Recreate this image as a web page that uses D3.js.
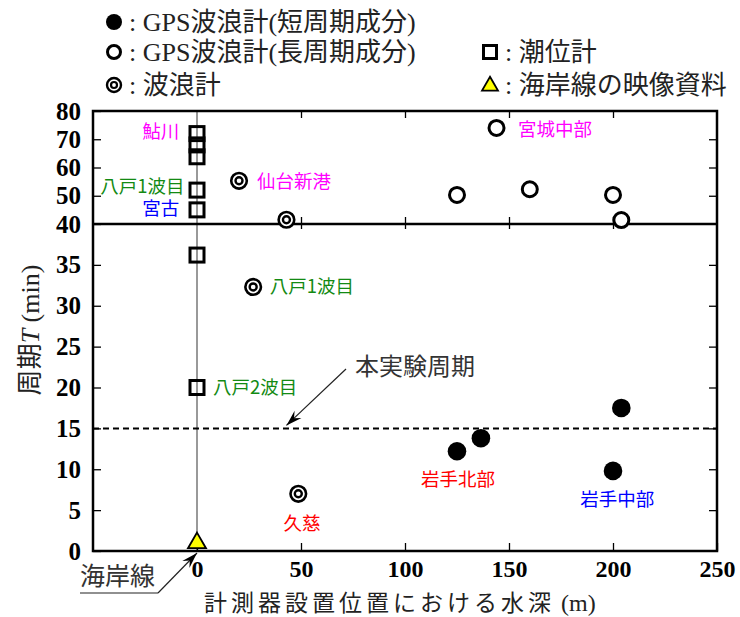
<!DOCTYPE html>
<html>
<head>
<meta charset="utf-8">
<script src="https://cdn.jsdelivr.net/npm/d3@7"></script>
<style>
  body { margin: 0; background: #fff; }
  svg text { font-family: "Liberation Serif", "Noto Sans CJK JP", serif; }
</style>
</head>
<body>
<div id="chart"></div>
<script>
// values: water depth (m) and period T (min)
const tideDepth = [0, 0, 0, 0, 0, 0, 0];
const tideT = [72, 68, 63.8, 52, 45, 36.2, 20];

const waveDepth = [20.2, 43, 27, 48.7];
const waveT = [55.3, 41.5, 32.3, 7.0];

const gpsLongDepth = [144, 125, 160, 200, 204];
const gpsLongT = [74, 50.3, 52.3, 50.3, 41.4];

const gpsShortDepth = [125, 136.5, 200, 204];
const gpsShortT = [12.2, 13.8, 9.8, 17.5];

const shoreDepth = [0];
const shoreT = [1.1];

const xTicks = [0, 50, 100, 150, 200, 250];
const yTicksLow = [0, 5, 10, 15, 20, 25, 30, 35, 40];
const yTicksHigh = [50, 60, 70, 80];
const experimentT = 15;

// station names (depth, T where the name sits)
const siteNames = ["鮎川", "八戸1波目", "宮古", "仙台新港", "宮城中部", "八戸1波目", "八戸2波目", "岩手北部", "岩手中部", "久慈"];
const siteDepth = [-8.5, -6, -8.5, 28.8, 154.3, 35, 7.7, 125.5, 202, 50.5];
const siteT = [72.6, 53.4, 45.6, 55.2, 73.6, 32.4, 20, 8.8, 6.3, 3.4];
const siteColor = ["#ff00ff", "#138a13", "#0000ff", "#ff00ff", "#ff00ff", "#138a13", "#138a13", "#ff0000", "#0000ff", "#ff0000"];
const siteAnchor = ["end", "end", "end", "start", "start", "start", "start", "middle", "middle", "middle"];

const width = 740, height = 617;
const plot = { left: 93, right: 717, top: 111, mid: 224, bottom: 551 };

const svg = d3.select("#chart").append("svg")
  .attr("width", width)
  .attr("height", height);

const x = d3.scaleLinear().domain([-50, 250]).range([plot.left, plot.right]);
const yLow = d3.scaleLinear().domain([0, 40]).range([plot.bottom, plot.mid]);
const yHigh = d3.scaleLinear().domain([40, 80]).range([plot.mid, plot.top]);
function y(t) { return t <= 40 ? yLow(t) : yHigh(t); }

// zero-depth (shoreline) line
svg.append("line")
  .attr("x1", x(0)).attr("x2", x(0))
  .attr("y1", plot.top).attr("y2", plot.bottom)
  .attr("stroke", "#555").attr("stroke-width", 1.2);

// dashed line for experiment period
svg.append("line")
  .attr("x1", plot.left).attr("x2", plot.right)
  .attr("y1", yLow(experimentT)).attr("y2", yLow(experimentT))
  .attr("stroke", "#000").attr("stroke-width", 2)
  .attr("stroke-dasharray", "6,4");

// axes
function styleAxis(g, labels, size) {
  g.select(".domain").remove();
  g.selectAll(".tick line").attr("stroke", "#000").attr("stroke-width", 1.3);
  g.selectAll(".tick text")
    .style("font-family", "'Liberation Serif', serif")
    .style("font-weight", "bold")
    .style("font-size", (size || 25) + "px")
    .attr("fill", "#000");
  if (!labels) g.selectAll(".tick text").remove();
}

svg.append("g")
  .attr("transform", `translate(0,${plot.bottom})`)
  .call(d3.axisBottom(x).tickValues(xTicks).tickSize(-8).tickPadding(9).tickFormat(d3.format("d")))
  .call(g => styleAxis(g, true, 24));

svg.append("g")
  .attr("transform", `translate(0,${plot.top})`)
  .call(d3.axisTop(x).tickValues(xTicks.slice(1, 5)).tickSize(-7))
  .call(g => styleAxis(g, false));

svg.append("g")
  .attr("transform", `translate(0,${plot.mid})`)
  .call(d3.axisBottom(x).tickValues(xTicks.slice(1, 5)).tickSize(-7))
  .call(g => styleAxis(g, false));
svg.append("g")
  .attr("transform", `translate(0,${plot.mid})`)
  .call(d3.axisTop(x).tickValues(xTicks.slice(1, 5)).tickSize(-5))
  .call(g => styleAxis(g, false));

svg.append("g")
  .attr("transform", `translate(${plot.left},0)`)
  .call(d3.axisLeft(yLow).tickValues(yTicksLow).tickSize(-8).tickPadding(12))
  .call(g => styleAxis(g, true));
svg.append("g")
  .attr("transform", `translate(${plot.left},0)`)
  .call(d3.axisLeft(yHigh).tickValues(yTicksHigh).tickSize(-8).tickPadding(12))
  .call(g => styleAxis(g, true));
svg.append("g")
  .attr("transform", `translate(${plot.right},0)`)
  .call(d3.axisRight(yLow).tickValues(yTicksLow.slice(1, 8)).tickSize(-8))
  .call(g => styleAxis(g, false));
svg.append("g")
  .attr("transform", `translate(${plot.right},0)`)
  .call(d3.axisRight(yHigh).tickValues(yTicksHigh.slice(0, 3)).tickSize(-8))
  .call(g => styleAxis(g, false));

// frame + break line at 40
svg.append("rect")
  .attr("x", plot.left).attr("y", plot.top)
  .attr("width", plot.right - plot.left).attr("height", plot.bottom - plot.top)
  .attr("fill", "none").attr("stroke", "#000").attr("stroke-width", 2.5);
svg.append("line")
  .attr("x1", plot.left).attr("x2", plot.right)
  .attr("y1", plot.mid).attr("y2", plot.mid)
  .attr("stroke", "#000").attr("stroke-width", 2.5);

// markers
function zip(a, b) { return a.map((d, i) => ({ depth: d, T: b[i] })); }

svg.selectAll(".tide").data(zip(tideDepth, tideT)).enter()
  .append("rect")
  .attr("x", d => x(d.depth) - 7).attr("y", d => y(d.T) - 7)
  .attr("width", 14).attr("height", 14)
  .attr("fill", "none").attr("stroke", "#000").attr("stroke-width", 3);

svg.selectAll(".gpsLong").data(zip(gpsLongDepth, gpsLongT)).enter()
  .append("circle")
  .attr("cx", d => x(d.depth)).attr("cy", d => y(d.T)).attr("r", 7.5)
  .attr("fill", "#fff").attr("stroke", "#000").attr("stroke-width", 3);

svg.selectAll(".gpsShort").data(zip(gpsShortDepth, gpsShortT)).enter()
  .append("circle")
  .attr("cx", d => x(d.depth)).attr("cy", d => y(d.T)).attr("r", 9.3)
  .attr("fill", "#000");

const waveG = svg.selectAll(".wave").data(zip(waveDepth, waveT)).enter().append("g");
waveG.append("circle")
  .attr("cx", d => x(d.depth)).attr("cy", d => y(d.T)).attr("r", 7.8)
  .attr("fill", "#fff").attr("stroke", "#000").attr("stroke-width", 2.6);
waveG.append("circle")
  .attr("cx", d => x(d.depth)).attr("cy", d => y(d.T)).attr("r", 3.5)
  .attr("fill", "none").attr("stroke", "#000").attr("stroke-width", 2.4);

const tri = d3.symbol().type(d3.symbolTriangle).size(140);
svg.selectAll(".shore").data(zip(shoreDepth, shoreT)).enter()
  .append("path")
  .attr("d", tri)
  .attr("transform", d => `translate(${x(d.depth)},${y(d.T) + 1})`)
  .attr("fill", "#ffff00").attr("stroke", "#000").attr("stroke-width", 1.8);

// station name labels
svg.selectAll(".site").data(siteNames).enter()
  .append("text")
  .attr("x", (d, i) => x(siteDepth[i]))
  .attr("y", (d, i) => y(siteT[i]))
  .attr("dy", "0.35em")
  .attr("text-anchor", (d, i) => siteAnchor[i])
  .attr("fill", (d, i) => siteColor[i])
  .style("font-family", "'Noto Sans CJK JP', sans-serif")
  .style("font-size", "18.5px")
  .text(d => d);

// arrows
function arrow(x1, y1, x2, y2) {
  svg.append("line")
    .attr("x1", x1).attr("y1", y1).attr("x2", x2).attr("y2", y2)
    .attr("stroke", "#222").attr("stroke-width", 1.2);
  const a = Math.atan2(y2 - y1, x2 - x1), L = 16, W = 5;
  const bx = x2 - L * Math.cos(a), by = y2 - L * Math.sin(a);
  svg.append("path")
    .attr("d", `M${x2},${y2}L${bx + W * Math.sin(a)},${by - W * Math.cos(a)}L${bx + 0.35 * L * Math.cos(a)},${by + 0.35 * L * Math.sin(a)}L${bx - W * Math.sin(a)},${by + W * Math.cos(a)}Z`)
    .attr("fill", "#000");
}

// 本実験周期 annotation
svg.append("text")
  .attr("x", 355).attr("y", 367).attr("dy", "0.35em")
  .attr("fill", "#333")
  .style("font-family", "'Noto Sans CJK JP', sans-serif")
  .style("font-size", "24px")
  .text("本実験周期");
arrow(346, 369, x(43), yLow(experimentT) - 3);

// 海岸線 annotation
svg.append("text")
  .attr("x", 80).attr("y", 576).attr("dy", "0.35em")
  .attr("fill", "#333")
  .style("font-family", "'Noto Sans CJK JP', sans-serif")
  .style("font-size", "25px")
  .text("海岸線");
svg.append("line")
  .attr("x1", 80).attr("y1", 593).attr("x2", 158).attr("y2", 593)
  .attr("stroke", "#222").attr("stroke-width", 1.2);
arrow(158, 593, x(0), plot.bottom + 2);

// axis titles
svg.append("text")
  .attr("x", 204).attr("y", 603).attr("dy", "0.35em")
  .attr("fill", "#222")
  .style("font-size", "23px")
  .html("<tspan style=\"font-family:'Noto Sans CJK JP'\" letter-spacing=\"4\">計測器設置位置における水深</tspan><tspan font-size=\"24\"> (m)</tspan>");

svg.append("text")
  .attr("transform", "translate(30,330) rotate(-90)")
  .attr("text-anchor", "middle")
  .attr("dy", "0.35em")
  .attr("fill", "#222")
  .style("font-size", "26px")
  .html("<tspan style=\"font-family:'Noto Sans CJK JP'\">周期</tspan><tspan font-style=\"italic\">T</tspan><tspan> (min)</tspan>");

// legend
const legendNames = [": GPS波浪計(短周期成分)", ": GPS波浪計(長周期成分)", ": 波浪計", ": 潮位計", ": 海岸線の映像資料"];
const legendX = [114, 114, 114, 490, 490];
const legendY = [22, 52, 85, 52, 85];
const legendKind = ["short", "long", "wave", "tide", "shore"];

legendKind.forEach((k, i) => {
  const cx = legendX[i], cy = legendY[i];
  if (k == "short") {
    svg.append("circle").attr("cx", cx).attr("cy", cy).attr("r", 8).attr("fill", "#000");
  } else if (k == "long") {
    svg.append("circle").attr("cx", cx).attr("cy", cy).attr("r", 6.5)
      .attr("fill", "none").attr("stroke", "#000").attr("stroke-width", 3);
  } else if (k == "wave") {
    svg.append("circle").attr("cx", cx).attr("cy", cy).attr("r", 7)
      .attr("fill", "none").attr("stroke", "#000").attr("stroke-width", 2.4);
    svg.append("circle").attr("cx", cx).attr("cy", cy).attr("r", 3)
      .attr("fill", "none").attr("stroke", "#000").attr("stroke-width", 2.2);
  } else if (k == "tide") {
    svg.append("rect").attr("x", cx - 6.5).attr("y", cy - 6.5).attr("width", 13).attr("height", 13)
      .attr("fill", "none").attr("stroke", "#000").attr("stroke-width", 3);
  } else {
    svg.append("path").attr("d", d3.symbol().type(d3.symbolTriangle).size(110))
      .attr("transform", `translate(${cx},${cy + 1})`)
      .attr("fill", "#ffff00").attr("stroke", "#000").attr("stroke-width", 1.8);
  }
  svg.append("text")
    .attr("x", cx + 15).attr("y", cy).attr("dy", "0.35em")
    .attr("fill", "#222")
    .style("font-size", "26px")
    .text(legendNames[i]);
});
</script>
</body>
</html>
